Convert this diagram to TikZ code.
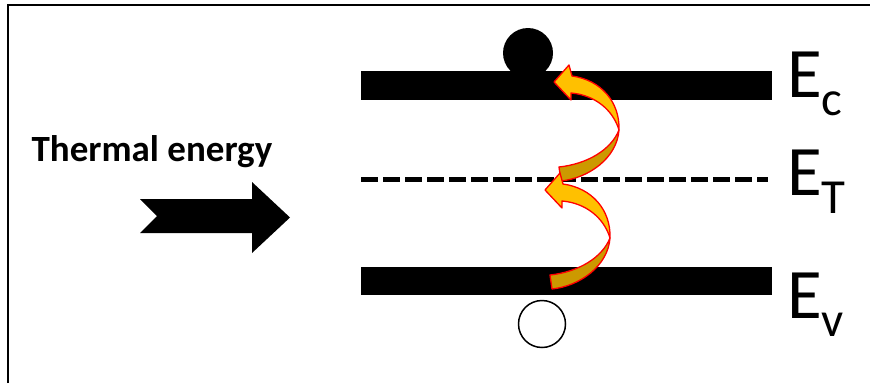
\documentclass[tikz,border=0pt]{standalone}
\usepackage{fontspec}
\setmainfont{Carlito}
\definecolor{hopbright}{RGB}{255,192,0}
\definecolor{hopdark}{RGB}{204,153,0}
\newcommand{\bandlabel}[1]{\fontsize{71}{71}\selectfont E\raisebox{-18pt}{\fontsize{49}{49}\selectfont #1}}
\newcommand{\hoparrow}[2]{%
  \begin{scope}[shift={(#1,#2)}]
    \filldraw[hop, fill=hopbright] (0,0) -- (15,-17) -- (18,-6) .. controls (47,-2) and (66,20) .. (65,48)
      .. controls (59,28) and (41,13) .. (17,11) -- (17,18) -- cycle;
    \filldraw[hop, fill=hopdark] (65,48) .. controls (63,76) and (35,96) .. (7,99) -- (5,85)
      .. controls (33,82) and (57,68) .. (65,48) -- cycle;
  \end{scope}}
\begin{document}
\begin{tikzpicture}[x=1pt,y=-1pt,
    hop/.style={draw=red, line width=1.3pt, line join=round},
    band/.style={fill=black},
    trap/.style={line width=5pt, dash pattern=on 17pt off 5pt}]
  \useasboundingbox (0,0) rectangle (870,383);
  % frame
  \draw[line width=2pt] (8,383) -- (8,5) -- (870,5);
  % thermal energy
  \node (thermal) [anchor=base, font=\bfseries\fontsize{37}{37}\selectfont] at (152,161) {Thermal energy};
  \fill (140,199) -- (252,199) -- (252,182) -- (290,217.5) -- (252,253) -- (252,233)
    -- (140,233) -- (157,216) -- cycle;
  % electron
  \node (electron) [circle, fill, minimum size=50pt, inner sep=0pt] at (528,53) {};
  % levels
  \coordinate (C1) at (361,71);
  \coordinate (C2) at (772,100);
  \coordinate (V1) at (361,267);
  \coordinate (V2) at (772,295);
  \coordinate (T1) at (361,179);
  \coordinate (T2) at (768,179);
  \fill[band] (C1) rectangle (C2);
  \fill[band] (V1) rectangle (V2);
  \draw[trap] (T1) -- (T2);
  % hole
  \node (hole) [circle, draw, line width=1.5pt, minimum size=47pt, inner sep=0pt] at (542,324) {};
  % hops
  \hoparrow{554}{82}
  \hoparrow{545}{190}
  % labels
  \node (ec) [anchor=base west, inner sep=0pt] at (787,97) {\bandlabel{c}};
  \node (et) [anchor=base west, inner sep=0pt] at (787,195) {\bandlabel{T}};
  \node (ev) [anchor=base west, inner sep=0pt] at (787,318) {\bandlabel{v}};
\end{tikzpicture}
\end{document}
